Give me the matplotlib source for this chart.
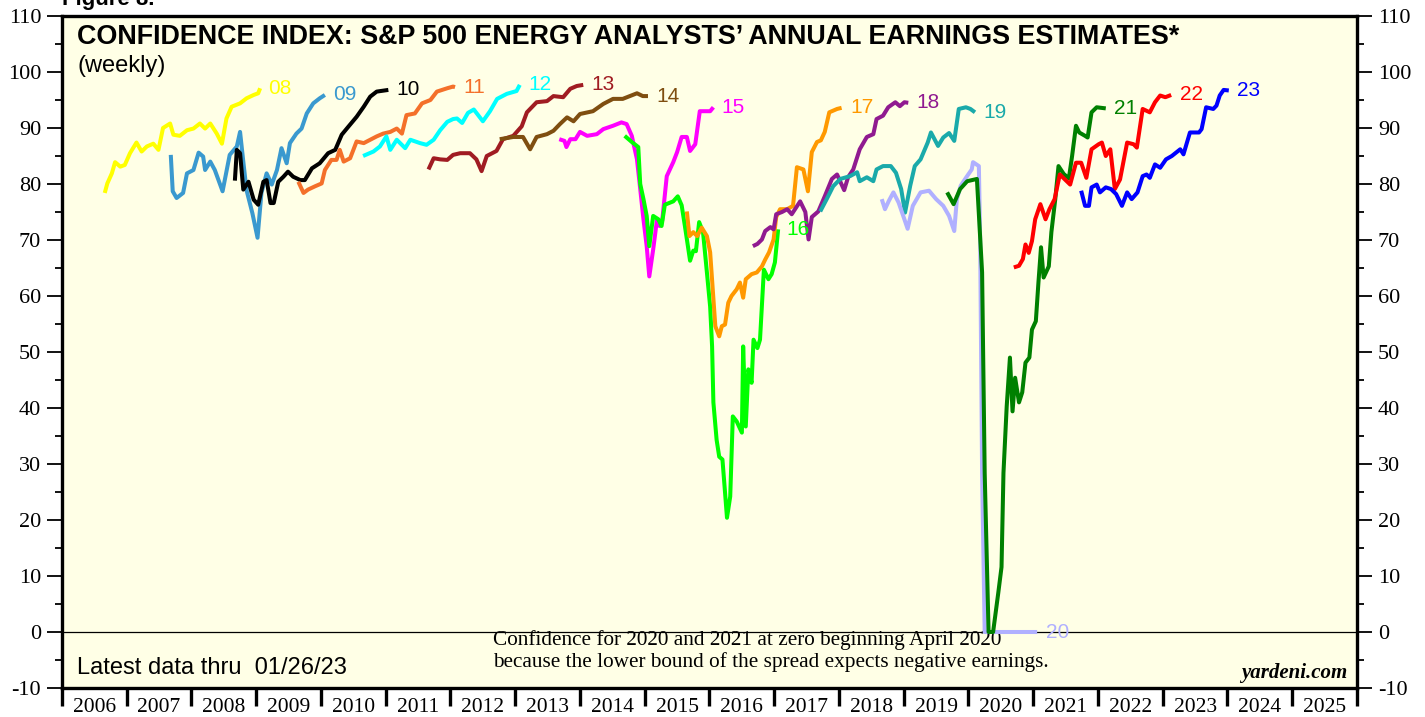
import matplotlib
matplotlib.use('Agg')
import matplotlib.pyplot as plt
from matplotlib.ticker import MultipleLocator, FixedLocator, NullFormatter

plt.rcParams['axes.unicode_minus'] = False

# ---- data (year fraction, confidence index) ----
x08 = [2006.66, 2006.70, 2006.77, 2006.82, 2006.90, 2006.97, 2007.05, 2007.15, 2007.23, 2007.31,
       2007.41, 2007.49, 2007.56, 2007.67, 2007.72, 2007.82, 2007.93, 2008.03, 2008.13, 2008.21,
       2008.29, 2008.39, 2008.47, 2008.54, 2008.62, 2008.75, 2008.85, 2008.96, 2009.03, 2009.06]
y08 = [78.4, 80.1, 81.9, 83.9, 83.1, 83.4, 85.5, 87.4, 85.8, 86.7,
       87.2, 86.1, 90.0, 90.8, 88.8, 88.6, 89.6, 89.9, 90.8, 89.9,
       90.8, 89.0, 87.2, 91.7, 93.8, 94.4, 95.3, 95.9, 96.2, 97.1]

x09 = [2007.68, 2007.71, 2007.77, 2007.87, 2007.93, 2008.03, 2008.11, 2008.18, 2008.21, 2008.29,
       2008.36, 2008.48, 2008.59, 2008.70, 2008.75, 2008.80, 2008.85, 2008.94, 2009.02, 2009.08,
       2009.16, 2009.24, 2009.32, 2009.39, 2009.47, 2009.52, 2009.62, 2009.70, 2009.78, 2009.88,
       2009.98, 2010.06]
y09 = [85.2, 78.7, 77.5, 78.4, 81.9, 82.5, 85.6, 84.9, 82.5, 84.0,
       82.5, 78.7, 85.2, 86.7, 89.3, 84.0, 78.9, 74.8, 70.4, 78.4,
       81.9, 79.9, 82.5, 86.4, 83.7, 87.3, 89.0, 89.9, 92.6, 94.4,
       95.3, 95.9]

x10 = [2008.67, 2008.70, 2008.75, 2008.80, 2008.88, 2008.96, 2009.03, 2009.11, 2009.16, 2009.22,
       2009.27, 2009.34, 2009.42, 2009.49, 2009.57, 2009.68, 2009.75, 2009.86, 2009.98, 2010.11,
       2010.22, 2010.32, 2010.42, 2010.55, 2010.66, 2010.76, 2010.86, 2011.04]
y10 = [80.6, 86.1, 85.5, 79.0, 80.4, 77.2, 76.3, 80.4, 80.7, 76.6,
       76.6, 80.4, 81.3, 82.2, 81.3, 80.7, 80.7, 82.8, 83.7, 85.5,
       86.1, 88.8, 90.2, 92.0, 93.8, 95.6, 96.5, 96.8]

x11 = [2009.65, 2009.73, 2009.80, 2009.91, 2010.01, 2010.06, 2010.16, 2010.24, 2010.29, 2010.35,
       2010.45, 2010.55, 2010.66, 2010.76, 2010.86, 2010.96, 2011.07, 2011.17, 2011.25, 2011.32,
       2011.45, 2011.56, 2011.69, 2011.79, 2011.95, 2012.04, 2012.07]
y11 = [80.4, 78.4, 79.0, 79.6, 80.1, 82.5, 84.3, 84.3, 86.1, 84.0,
       84.6, 87.6, 87.3, 87.9, 88.5, 89.0, 89.3, 89.9, 89.0, 92.3,
       92.6, 94.4, 95.0, 96.5, 97.1, 97.4, 97.3]

x12 = [2010.65, 2010.81, 2010.91, 2011.01, 2011.07, 2011.17, 2011.30, 2011.38, 2011.53, 2011.63,
       2011.74, 2011.84, 2011.95, 2012.04, 2012.10, 2012.18, 2012.27, 2012.36, 2012.50, 2012.61,
       2012.72, 2012.87, 2013.02, 2013.07]
y12 = [85.0, 85.8, 86.7, 88.5, 86.1, 87.9, 86.4, 87.9, 87.3, 87.0,
       87.9, 89.6, 91.1, 91.6, 91.7, 90.9, 92.7, 93.3, 91.2, 93.0,
       95.2, 96.1, 96.6, 97.7]

x13 = [2011.66, 2011.74, 2011.84, 2011.95, 2012.04, 2012.15, 2012.30, 2012.40, 2012.48, 2012.56,
       2012.71, 2012.81, 2012.97, 2013.10, 2013.18, 2013.33, 2013.49, 2013.59, 2013.74, 2013.85,
       2013.95, 2014.05]
y13 = [82.6, 84.6, 84.4, 84.3, 85.2, 85.5, 85.5, 84.4, 82.3, 85.0,
       85.9, 88.0, 88.6, 90.3, 92.8, 94.6, 94.8, 95.7, 95.5, 97.0,
       97.5, 97.7]

x14 = [2012.76, 2012.97, 2013.12, 2013.23, 2013.33, 2013.49, 2013.59, 2013.69, 2013.80, 2013.90,
       2014.00, 2014.20, 2014.36, 2014.51, 2014.66, 2014.77, 2014.88, 2014.97, 2015.05]
y14 = [88.0, 88.4, 88.4, 86.2, 88.4, 88.9, 89.5, 90.7, 91.9, 91.2,
       92.5, 93.0, 94.3, 95.2, 95.2, 95.7, 96.2, 95.7, 95.7]

x15 = [2013.68, 2013.76, 2013.79, 2013.85, 2013.93, 2014.00, 2014.11, 2014.26, 2014.36, 2014.51,
       2014.64, 2014.72, 2014.80, 2014.88, 2014.93, 2014.98, 2015.03, 2015.07, 2015.13, 2015.19,
       2015.23, 2015.27, 2015.34, 2015.44, 2015.50, 2015.57, 2015.65, 2015.70, 2015.78, 2015.85,
       2016.01, 2016.06]
y15 = [88.0, 87.7, 86.6, 88.0, 88.0, 89.3, 88.6, 88.9, 89.8, 90.4,
       91.0, 90.7, 88.6, 84.4, 79.1, 73.7, 68.9, 63.5, 68.3, 73.7,
       72.5, 73.5, 81.4, 83.9, 85.7, 88.4, 88.4, 85.9, 87.1, 93.0,
       93.0, 93.7]

x16 = [2014.69, 2014.80, 2014.90, 2014.93, 2014.98, 2015.03, 2015.07, 2015.13, 2015.21, 2015.26,
       2015.31, 2015.44, 2015.51, 2015.57, 2015.62, 2015.70, 2015.75, 2015.79, 2015.84, 2015.90,
       2015.96, 2016.01, 2016.04, 2016.06, 2016.11, 2016.15, 2016.20, 2016.24, 2016.27, 2016.32,
       2016.36, 2016.42, 2016.50, 2016.52, 2016.56, 2016.60, 2016.65, 2016.68, 2016.74, 2016.78,
       2016.84, 2016.91, 2016.96, 2017.01, 2017.06]
y16 = [88.6, 87.5, 86.6, 80.0, 77.3, 74.3, 68.9, 74.3, 73.7, 72.5,
       76.3, 76.9, 77.8, 76.2, 72.5, 66.3, 68.1, 68.0, 73.2, 71.4,
       64.2, 58.1, 51.0, 41.0, 34.3, 31.3, 30.8, 24.9, 20.4, 24.2,
       38.5, 37.6, 35.6, 51.0, 36.7, 46.9, 44.5, 52.2, 50.7, 52.2,
       64.7, 63.0, 63.9, 66.0, 71.9]

x17 = [2015.65, 2015.69, 2015.75, 2015.81, 2015.88, 2015.96, 2016.01, 2016.05, 2016.09, 2016.15,
       2016.19, 2016.24, 2016.29, 2016.34, 2016.42, 2016.47, 2016.52, 2016.56, 2016.65, 2016.73,
       2016.81, 2016.86, 2016.92, 2016.99, 2017.03, 2017.09, 2017.20, 2017.29, 2017.35, 2017.45,
       2017.52, 2017.58, 2017.66, 2017.72, 2017.78, 2017.85, 2017.97, 2018.04]
y17 = [75.1, 70.7, 71.4, 70.7, 72.2, 70.7, 67.8, 61.2, 54.6, 52.8,
       54.6, 54.9, 58.8, 60.0, 61.2, 62.4, 59.7, 63.0, 63.9, 64.2,
       65.3, 66.5, 67.8, 70.1, 74.1, 75.5, 75.5, 76.1, 83.0, 82.6,
       78.7, 85.7, 87.5, 87.8, 89.3, 92.8, 93.4, 93.6]

x18 = [2016.67, 2016.74, 2016.81, 2016.86, 2016.94, 2016.99, 2017.03, 2017.12, 2017.20, 2017.27,
       2017.40, 2017.48, 2017.53, 2017.58, 2017.68, 2017.78, 2017.89, 2017.97, 2018.08, 2018.14,
       2018.22, 2018.32, 2018.43, 2018.53, 2018.58, 2018.68, 2018.76, 2018.87, 2018.94, 2019.01,
       2019.07]
y18 = [68.9, 69.3, 70.1, 71.6, 72.3, 71.9, 74.6, 75.0, 75.5, 74.6,
       76.9, 75.0, 70.1, 74.1, 75.1, 77.8, 80.9, 81.7, 78.9, 81.2,
       82.6, 86.2, 88.4, 88.9, 91.6, 92.2, 93.7, 94.6, 93.9, 94.6,
       94.5]

x19 = [2017.71, 2017.81, 2017.91, 2018.02, 2018.17, 2018.28, 2018.32, 2018.43, 2018.53, 2018.58,
       2018.68, 2018.80, 2018.88, 2018.96, 2019.02, 2019.10, 2019.17, 2019.26, 2019.37, 2019.42,
       2019.53, 2019.61, 2019.70, 2019.78, 2019.85, 2019.96, 2020.03, 2020.10]
y19 = [75.1, 77.3, 79.6, 80.9, 81.4, 82.1, 80.5, 81.2, 80.5, 82.6,
       83.2, 83.2, 82.0, 79.1, 74.9, 79.7, 83.2, 84.4, 87.4, 89.2,
       86.8, 88.3, 89.1, 87.7, 93.4, 93.7, 93.4, 92.8]

x20 = [2018.66, 2018.71, 2018.77, 2018.84, 2018.92, 2019.01, 2019.06, 2019.14, 2019.26, 2019.39,
       2019.50, 2019.61, 2019.70, 2019.78, 2019.82, 2019.88, 2019.96, 2020.05, 2020.07, 2020.16,
       2020.18, 2020.21, 2020.25, 2021.06]
y20 = [77.3, 75.5, 77.0, 78.5, 76.7, 73.7, 72.0, 76.1, 78.5, 78.8,
       77.3, 76.1, 74.3, 71.6, 77.3, 79.7, 81.1, 82.6, 83.9, 83.2,
       70.0, 28.4, 0.0, 0.0]

x21 = [2019.67, 2019.77, 2019.87, 2019.98, 2020.13, 2020.21, 2020.25, 2020.31, 2020.38, 2020.46,
       2020.51, 2020.54, 2020.59, 2020.64, 2020.68, 2020.72, 2020.78, 2020.83, 2020.88, 2020.94,
       2020.98, 2021.04, 2021.08, 2021.12, 2021.16, 2021.24, 2021.28, 2021.34, 2021.39, 2021.47,
       2021.55, 2021.60, 2021.66, 2021.71, 2021.80, 2021.84, 2021.90, 2021.98, 2022.12]
y21 = [78.5, 76.4, 79.1, 80.5, 80.9, 64.2, 28.4, 0.0, 0.0, 7.0,
       11.6, 28.4, 40.3, 49.0, 39.4, 45.4, 41.0, 42.8, 48.1, 49.0,
       54.0, 55.5, 62.4, 68.7, 63.3, 65.3, 71.4, 77.3, 83.2, 81.8,
       81.0, 85.0, 90.4, 89.2, 88.6, 88.3, 92.8, 93.7, 93.5]

x22 = [2020.70, 2020.78, 2020.84, 2020.88, 2020.93, 2020.98, 2021.03, 2021.11, 2021.19, 2021.25,
       2021.33, 2021.41, 2021.49, 2021.57, 2021.66, 2021.74, 2021.82, 2021.90, 2022.01, 2022.06,
       2022.12, 2022.19, 2022.26, 2022.34, 2022.39, 2022.45, 2022.55, 2022.60, 2022.69, 2022.80,
       2022.88, 2022.96, 2023.04, 2023.13]
y22 = [65.1, 65.4, 66.6, 69.2, 67.7, 69.8, 73.7, 76.4, 73.7, 75.5,
       77.3, 81.7, 80.8, 79.9, 83.8, 83.8, 81.1, 86.2, 87.1, 87.4,
       85.0, 86.2, 79.1, 80.8, 83.8, 87.4, 87.1, 86.5, 93.4, 92.8,
       94.6, 95.8, 95.5, 95.9]

x23 = [2021.74, 2021.80, 2021.86, 2021.90, 2021.98, 2022.03, 2022.12, 2022.20, 2022.28, 2022.37,
       2022.45, 2022.52, 2022.61, 2022.69, 2022.75, 2022.80, 2022.88, 2022.96, 2023.05, 2023.14,
       2023.27, 2023.32, 2023.42, 2023.56, 2023.60, 2023.67, 2023.78, 2023.83, 2023.88, 2023.94,
       2024.02]
y23 = [78.8, 76.1, 76.1, 79.4, 79.9, 78.5, 79.4, 79.1, 78.2, 76.1,
       78.5, 77.3, 78.5, 81.4, 81.7, 81.1, 83.5, 82.9, 84.4, 85.0,
       86.2, 85.3, 89.2, 89.2, 89.8, 93.7, 93.4, 94.0, 95.8, 96.8,
       96.7]

labels = ['08', '09', '10', '11', '12', '13', '14', '15', '16', '17',
          '18', '19', '20', '21', '22', '23']
xs = [x08, x09, x10, x11, x12, x13, x14, x15, x16, x17, x18, x19, x20, x21, x22, x23]
ys = [y08, y09, y10, y11, y12, y13, y14, y15, y16, y17, y18, y19, y20, y21, y22, y23]
colors = ['#FFFF00', '#3A99CF', '#000000', '#F4702A', '#00FFFF', '#A01C22', '#7F4E10', '#FF00FF',
          '#00FF00', '#FF9900', '#901A90', '#1AAAAA', '#B0B0FF', '#008000', '#FF0000', '#0000FF']

years = list(range(2006, 2026))

# ---- figure ----
fig = plt.figure(figsize=(14.25, 7.17), dpi=100)
ax = fig.add_axes([62 / 1425, 29 / 717, 1295 / 1425, 672 / 717])
ax.set_facecolor('#FFFFE6')

for i in range(len(xs)):
    ax.plot(xs[i], ys[i], color=colors[i], lw=2.9, solid_joinstyle='round',
            solid_capstyle='butt', zorder=3 + i)
    ax.text(xs[i][-1] + 0.13, ys[i][-1], labels[i], color=colors[i], fontsize=15,
            family='Liberation Sans', va='center', ha='left', zorder=30)

ax.axhline(0, color='black', lw=0.9, zorder=2)

ax.set_xlim(2006, 2026)
ax.set_ylim(-10, 110)

# y axis: both sides
ax.yaxis.set_major_locator(MultipleLocator(10))
ax.yaxis.set_minor_locator(MultipleLocator(5))
ax.tick_params(axis='y', which='both', direction='out', left=True, right=True,
               labelleft=True, labelright=True, labelsize=16, width=1.3, pad=4)
ax.tick_params(axis='y', which='major', length=11)
ax.tick_params(axis='y', which='minor', length=5)

# x axis: year boundaries as ticks, year names centred in between
ax.xaxis.set_major_locator(FixedLocator(list(range(2006, 2027))))
ax.xaxis.set_major_formatter(NullFormatter())
ax.xaxis.set_minor_locator(FixedLocator([y + 0.5 for y in years]))
ax.set_xticklabels([str(y) for y in years], minor=True)
ax.tick_params(axis='x', which='major', direction='out', length=13, width=2.4, top=False)
ax.tick_params(axis='x', which='minor', length=0, labelsize=15.5, pad=7)

for lab in ax.get_xticklabels(minor=True):
    lab.set_family('Liberation Serif')
for t in ax.yaxis.get_major_ticks():
    t.label1.set_family('Liberation Serif')
    t.label2.set_family('Liberation Serif')

for s in ax.spines.values():
    s.set_linewidth(2.4)

# ---- texts ----
ax.text(0.0116, 0.969, 'CONFIDENCE INDEX: S&P 500 ENERGY ANALYSTS\u2019 ANNUAL EARNINGS ESTIMATES*',
        transform=ax.transAxes, fontsize=19.4, weight='bold', family='Liberation Sans',
        va='center', ha='left')
ax.text(0.0116, 0.925, '(weekly)', transform=ax.transAxes, fontsize=17,
        family='Liberation Sans', va='center', ha='left')
ax.text(0.0116, 0.030, 'Latest data thru  01/26/23', transform=ax.transAxes, fontsize=17,
        family='Liberation Sans', va='center', ha='left')
ax.text(0.333, 0.0714, 'Confidence for 2020 and 2021 at zero beginning April 2020',
        transform=ax.transAxes, fontsize=15.3, family='Liberation Serif', va='center', ha='left')
ax.text(0.333, 0.0387, 'because the lower bound of the spread expects negative earnings.',
        transform=ax.transAxes, fontsize=15.3, family='Liberation Serif', va='center', ha='left')
ax.text(0.9923, 0.0223, 'yardeni.com', transform=ax.transAxes, fontsize=15,
        family='Liberation Serif', weight='bold', style='italic', va='center', ha='right')

fig.text(62 / 1425, 1.0, 'Figure 8.', fontsize=16, weight='bold', family='Liberation Sans',
         va='center', ha='left')

fig.savefig('out.png', dpi=100)
